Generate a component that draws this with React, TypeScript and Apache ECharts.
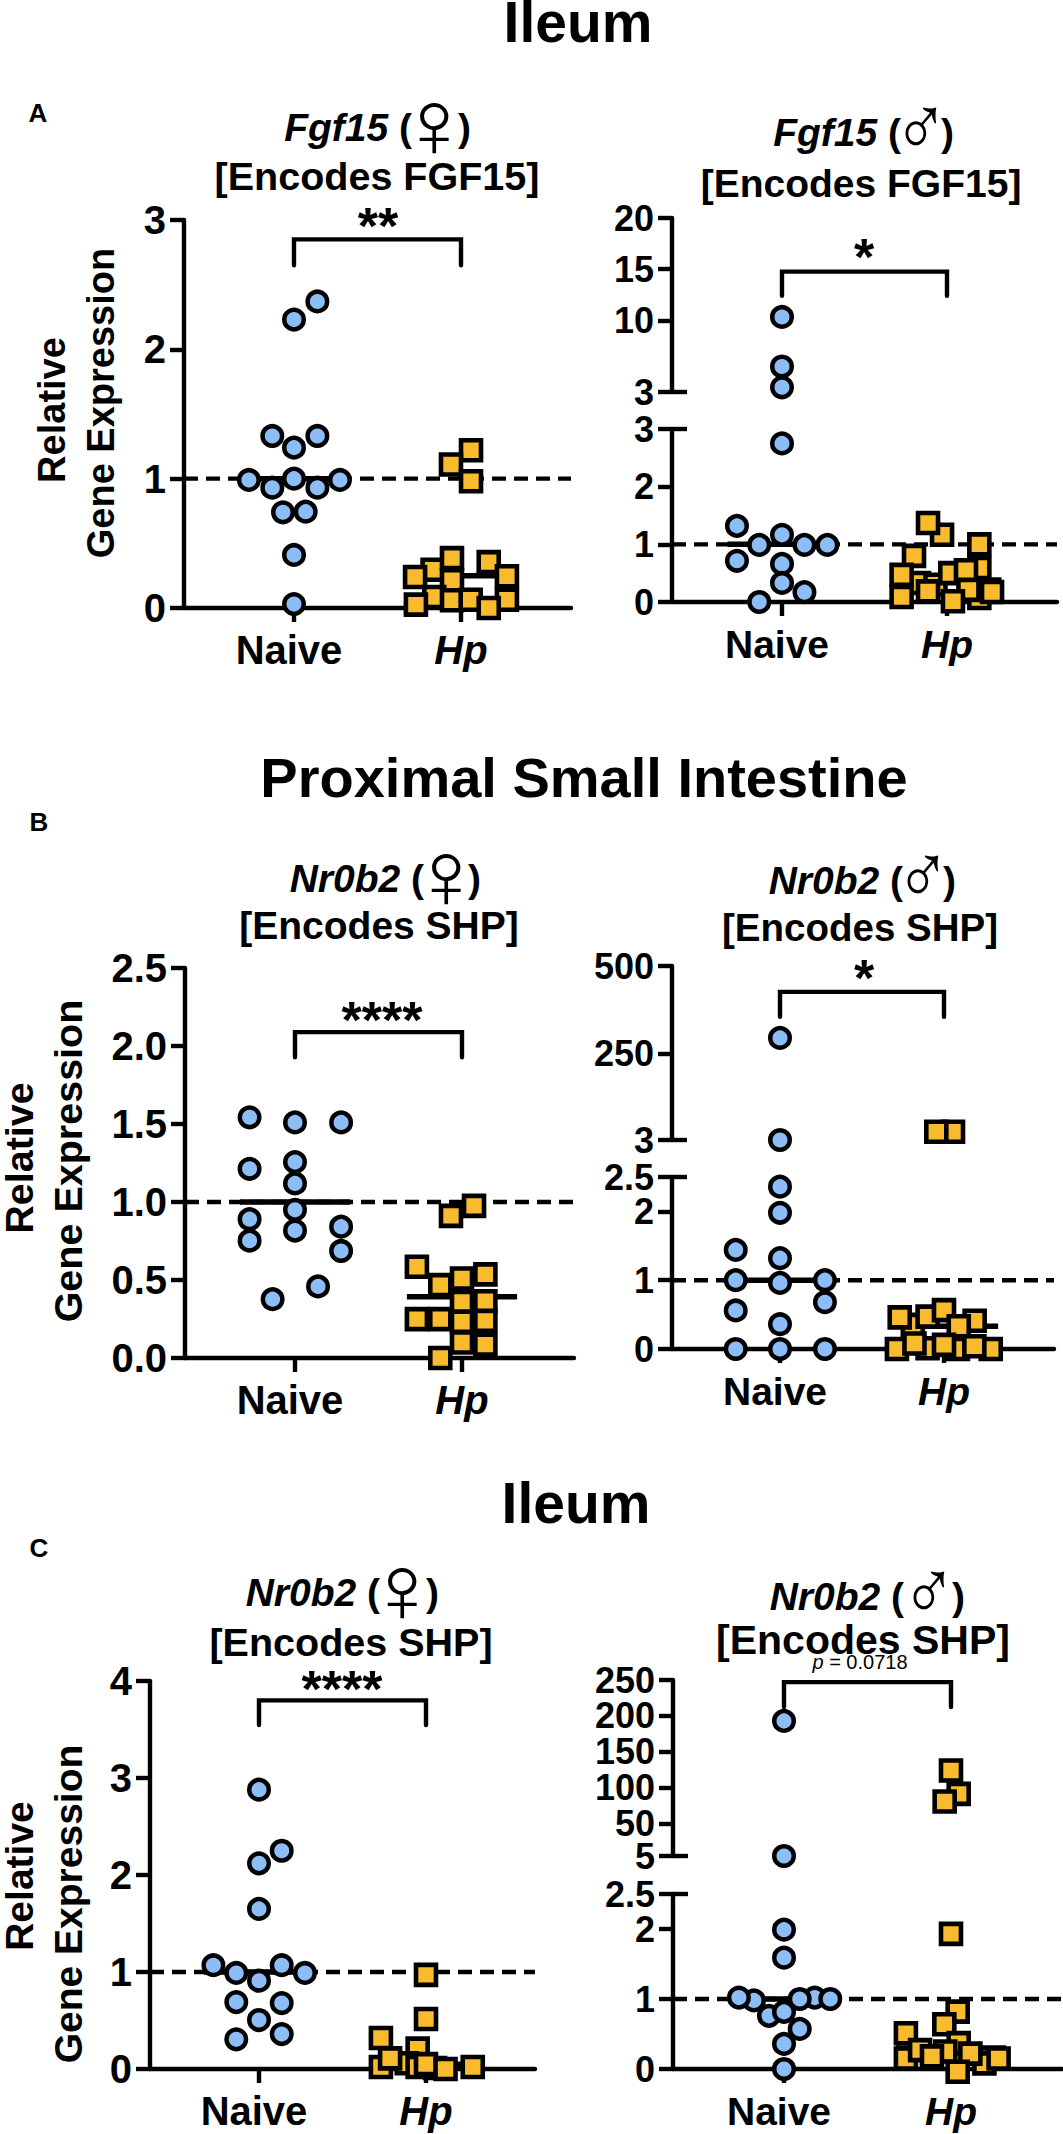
import React, { useEffect, useRef } from "react";
import * as echarts from "echarts";

// [offset from the group's centre, value]
const aFemaleNaive = [[0.14,2.37],[0,2.23],[-0.13,1.33],[0.14,1.33],[0,1.24],[-0.27,0.99],[0.275,0.99],[-0.13,0.93],[0.14,0.93],[0,1.0],[-0.066,0.74],[0.07,0.745],[0,0.41],[0,0.03]];
const aFemaleHp = [[0.06,1.22],[-0.06,1.11],[0.06,0.98],[-0.17,0.296],[-0.275,0.24],[0.166,0.355],[0.275,0.245],[-0.054,0.386],[-0.054,0.214],[-0.16,0.085],[-0.27,0.026],[-0.054,0.06],[0.058,0.064],[0.275,0.064],[0.166,0]];
const aMaleNaiveUpper = [[0,10.33],[0,5.49],[0,3.46]];
const aMaleNaiveLower = [[0,2.75],[-0.273,1.32],[0,1.165],[-0.138,0.99],[0.136,0.99],[0.275,0.99],[-0.273,0.715],[0,0.66],[0,0.33],[0.136,0.17],[-0.138,0]];
const aMaleHp = [[-0.03,1.165],[-0.115,1.37],[0.196,0.59],[0.196,1.0],[-0.2,0.8],[-0.17,0.33],[-0.07,0.3],[-0.275,0.47],[0.02,0.5],[0.115,0.55],[0.196,0.07],[0.13,0.21],[-0.275,0.087],[-0.115,0.185],[0.273,0.173],[0.036,0.012]];
const bFemaleNaive = [[-0.272,1.543],[0,1.51],[0.276,1.51],[-0.272,1.213],[0,1.256],[0,1.119],[0,0.95],[-0.272,0.89],[-0.272,0.752],[0,0.817],[0.276,0.842],[0.276,0.686],[0.138,0.459],[-0.134,0.377]];
const bFemaleHp = [[0.072,0.975],[-0.066,0.911],[-0.27,0.585],[-0.13,0.467],[0,0.51],[0.14,0.536],[0,0.36],[0.14,0.364],[-0.27,0.249],[-0.13,0.249],[0,0.232],[0.14,0.238],[0,0.099],[0.14,0.086],[-0.13,0]];
const bMaleNaiveUpper = [[0,294.5],[0,3]];
const bMaleNaiveLower = [[0,2.36],[0,1.98],[-0.27,1.44],[0,1.32],[-0.27,1],[0,0.96],[0.274,1],[0.274,0.68],[-0.27,0.56],[0,0.36],[-0.27,0],[0,0],[0.274,0]];
const bMaleHpUpper = [[0.055,26.7],[-0.047,26.7]];
const bMaleHpLower = [[-0.1,0.01],[0.085,0],[-0.19,0.35],[-0.287,0],[0.285,0],[-0.27,0.46],[-0.1,0.47],[0.187,0.41],[0,0.565],[0.09,0.33],[-0.18,0.08],[0.185,0.04],[0,0.06]];
const cFemaleNaive = [[0,2.88],[0.136,2.25],[0,2.12],[0,1.65],[-0.273,1.07],[0.136,1.07],[-0.136,0.99],[0.275,0.99],[0,0.91],[-0.136,0.69],[0.136,0.68],[0,0.505],[0.136,0.36],[-0.136,0.306]];
const cFemaleHp = [[0,0.97],[0,0.515],[-0.27,0.32],[-0.05,0.21],[-0.27,0.02],[-0.115,0.06],[-0.05,0.02],[0.054,0.01],[-0.215,0.11],[0,0.05],[0.117,0],[0.28,0.02]];
const cMaleNaiveUpper = [[0,193],[0,5]];
const cMaleNaiveLower = [[0,1.99],[0,1.59],[0.184,1.02],[-0.18,0.98],[-0.27,1.02],[0.094,1.0],[0.277,1.0],[-0.09,0.76],[0,0.816],[0.094,0.573],[0,0.358],[0,0]];
const cMaleHpUpper = [[0.046,91.5],[0,124],[-0.038,80.8]];
const cMaleHpLower = [[0,1.93],[0.04,0.82],[-0.04,0.64],[-0.27,0.15],[-0.27,0.51],[0.046,0.37],[-0.185,0.27],[-0.034,0.25],[-0.114,0.18],[0.2,0.08],[0.285,0.15],[0.116,0.22],[0.04,-0.04]];

const aFemaleTicks = [0, 1, 2, 3];
const aMaleLowerTicks = [0, 1, 2, 3];
const aMaleUpperTicks = [3, 10, 15, 20];
const bFemaleTicks = [0, 0.5, 1, 1.5, 2, 2.5];
const bMaleLowerTicks = [0, 1, 2, 2.5];
const bMaleLowerLabels = [0, 1, 2];
const bMaleUpperTicks = [3, 250, 500];
const cFemaleTicks = [0, 1, 2, 3, 4];
const cMaleLowerTicks = [0, 1, 2, 2.5];
const cMaleLowerLabels = [0, 1, 2];
const cMaleUpperTicks = [5, 50, 100, 150, 200, 250];
const cMaleUpperLabels = [50, 100, 150, 200, 250];

const groupTicks = [1, 2];
const referenceLevel = 1;

const BLUE = "#8cbdf6";
const ORANGE = "#f9bb2e";
const SANS = "'Liberation Sans', Arial, sans-serif";
const LINE = 4.4;

type Seg = { top: number; bottom: number; min: number; max: number; ticks: number[]; labels?: number[]; naive?: number[][]; hp?: number[][]; bracket?: number[] };
type Panel = {
  axisX: number; naiveX: number; hpX: number; right: number; ySize: number; xSize: number; xMargin: number; decimals?: boolean;
  naiveMedian: number; hpMedian: number; segs: Seg[];
};

const panels: Panel[] = [
  { axisX: 184, naiveX: 294, hpX: 461, right: 571, ySize: 40, xSize: 40, xMargin: 22, naiveMedian: 1, hpMedian: 0.25,
    segs: [{ top: 220, bottom: 608, min: 0, max: 3, ticks: aFemaleTicks, naive: aFemaleNaive, hp: aFemaleHp, bracket: [2.65, 2.85] }] },
  { axisX: 672, naiveX: 782, hpX: 947, right: 1057, ySize: 36, xSize: 39, xMargin: 23, naiveMedian: 1, hpMedian: 0.38,
    segs: [
      { top: 429, bottom: 602, min: 0, max: 3, ticks: aMaleLowerTicks, naive: aMaleNaiveLower, hp: aMaleHp },
      { top: 218, bottom: 392, min: 3, max: 20, ticks: aMaleUpperTicks, naive: aMaleNaiveUpper, bracket: [12.4, 14.76] },
    ] },
  { axisX: 185, naiveX: 295, hpX: 462, right: 574, ySize: 40, xSize: 40, xMargin: 22, decimals: true, naiveMedian: 1, hpMedian: 0.392,
    segs: [{ top: 968, bottom: 1358, min: 0, max: 2.5, ticks: bFemaleTicks, naive: bFemaleNaive, hp: bFemaleHp, bracket: [1.928, 2.089] }] },
  { axisX: 672, naiveX: 780, hpX: 944, right: 1054, ySize: 36, xSize: 39, xMargin: 23, naiveMedian: 1, hpMedian: 0.33,
    segs: [
      { top: 1177, bottom: 1349, min: 0, max: 2.5, ticks: bMaleLowerTicks, labels: bMaleLowerLabels, naive: bMaleNaiveLower, hp: bMaleHpLower },
      { top: 966, bottom: 1140, min: 3, max: 500, ticks: bMaleUpperTicks, naive: bMaleNaiveUpper, hp: bMaleHpUpper, bracket: [355, 426] },
    ] },
  { axisX: 150, naiveX: 259, hpX: 426, right: 535, ySize: 40, xSize: 40, xMargin: 22, naiveMedian: 1, hpMedian: 0.05,
    segs: [{ top: 1681, bottom: 2069, min: 0, max: 4, ticks: cFemaleTicks, naive: cFemaleNaive, hp: cFemaleHp, bracket: [3.546, 3.8] }] },
  { axisX: 673, naiveX: 784, hpX: 951, right: 1062, ySize: 36, xSize: 39, xMargin: 23, naiveMedian: 1, hpMedian: 0.3,
    segs: [
      { top: 1894, bottom: 2069, min: 0, max: 2.5, ticks: cMaleLowerTicks, labels: cMaleLowerLabels, naive: cMaleNaiveLower, hp: cMaleHpLower },
      { top: 1680, bottom: 1856, min: 5, max: 250, ticks: cMaleUpperTicks, labels: cMaleUpperLabels, naive: cMaleNaiveUpper, hp: cMaleHpUpper, bracket: [212.5, 247] },
    ] },
];

function lineSeries(xi: number, data: number[][], width: number, extra: any = {}) {
  return {
    type: "line", xAxisIndex: xi, yAxisIndex: xi, data, symbol: "none", silent: true, clip: false,
    lineStyle: { color: "#000", width, ...extra }, z: 2,
  };
}

function buildOption() {
  const grid: any[] = [], xAxis: any[] = [], yAxis: any[] = [], series: any[] = [];
  panels.forEach((p) => {
    const span = p.hpX - p.naiveX;
    const xMin = 1 - (p.naiveX - p.axisX) / span;
    const xMax = 2 + (p.right - p.hpX) / span;
    const broken = p.segs.length > 1;
    p.segs.forEach((s, si) => {
      const i = grid.length;
      grid.push({ left: p.axisX, width: p.right - p.axisX, top: s.top, height: s.bottom - s.top });
      const isBase = si === 0;
      xAxis.push({
        gridIndex: i, type: "value", min: xMin, max: xMax, show: isBase, splitLine: { show: false },
        axisLine: { onZero: false, lineStyle: { color: "#000", width: LINE } },
        axisTick: { show: true, customValues: groupTicks, length: 14, lineStyle: { color: "#000", width: LINE } },
        axisLabel: {
          show: true, customValues: groupTicks, margin: p.xMargin,
          formatter: (v: number) => (v === 1 ? "{n|Naive}" : "{h|Hp}"),
          rich: {
            n: { fontFamily: SANS, fontWeight: "bold", fontSize: p.xSize, color: "#000", padding: [0, 10, 0, 0] },
            h: { fontFamily: SANS, fontWeight: "bold", fontStyle: "italic", fontSize: p.xSize, color: "#000" },
          },
        },
      });
      yAxis.push({
        gridIndex: i, type: "value", min: s.min, max: s.max, splitLine: { show: false },
        axisLine: { show: true, onZero: false, lineStyle: { color: "#000", width: LINE } },
        axisTick: { show: true, customValues: s.ticks, length: 14, lineStyle: { color: "#000", width: LINE } },
        axisLabel: {
          show: true, customValues: s.labels || s.ticks, margin: 18, color: "#000", fontFamily: SANS, fontWeight: "bold", fontSize: p.ySize,
          showMinLabel: true, showMaxLabel: true, hideOverlap: false,
          formatter: (v: number) => (p.decimals ? v.toFixed(1) : String(v)),
        },
      });
      if (isBase) {
        series.push(lineSeries(i, [[xMin, referenceLevel], [xMax, referenceLevel]], LINE, { type: [14, 8] }));
        series.push(lineSeries(i, [[1 - 0.33, p.naiveMedian], [1 + 0.33, p.naiveMedian]], 5.5));
        series.push(lineSeries(i, [[2 - 0.33, p.hpMedian], [2 + 0.33, p.hpMedian]], 5.5));
      }
      if (broken) {
        const capX = xMin + 15 / span;
        const capY = isBase ? s.max : s.min;
        series.push(lineSeries(i, [[xMin, capY], [capX, capY]], LINE));
      }
      if (s.bracket) {
        const [low, high] = s.bracket;
        series.push(lineSeries(i, [[1, low], [1, high], [2, high], [2, low]], LINE, { cap: "round", join: "miter" }));
      }
      if (s.naive) series.push({
        type: "scatter", xAxisIndex: i, yAxisIndex: i, symbol: "circle", symbolSize: 19.5, clip: false, silent: true, z: 3,
        data: s.naive.map(([o, v]) => [1 + o, v]),
        itemStyle: { color: BLUE, borderColor: "#000", borderWidth: 4.5, opacity: 1 },
      });
      if (s.hp) series.push({
        type: "scatter", xAxisIndex: i, yAxisIndex: i, symbol: "rect", symbolSize: 20, clip: false, silent: true, z: 3,
        data: s.hp.map(([o, v]) => [2 + o, v]),
        itemStyle: { color: ORANGE, borderColor: "#000", borderWidth: 4.6, opacity: 1 },
      });
    });
  });

  const text = (t: string, x: number, y: number, fontSize: number, extra: any = {}, rot = 0, scaleX = 1) => ({
    type: "text", x, y, rotation: rot, scaleX, silent: true,
    style: { text: t, fontSize, fontFamily: SANS, fontWeight: "bold", fill: "#000", textAlign: "center", textVerticalAlign: "middle", ...extra },
  });
  const titleRich = {
    a: { fontFamily: SANS, fontWeight: "bold", fontStyle: "italic", fontSize: 39, fill: "#000" },
    b: { fontFamily: SANS, fontWeight: "bold", fontSize: 39, fill: "#000" },
  };
  const geneTitle = (gene: string, sym: string, parenEnd: number, parenStart: number, glyphX: number, y: number) => {
    const female = sym === "♀";
    return [
      text(`{a|${gene}} {b|(}`, parenEnd, y, 39, { rich: titleRich, textAlign: "right" }),
      text(sym, glyphX, female ? y - 3 : y - 6, female ? 96 : 86, { fontWeight: "normal", stroke: "#fff", lineWidth: female ? 1 : 0.8 }, 0, female ? 1.05 : 0.85),
      text(")", parenStart, y, 39, { textAlign: "left" }),
    ];
  };

  const graphic: any[] = [
    text("Ileum", 578, 22, 57),
    text("Proximal Small Intestine", 584, 777, 56),
    text("Ileum", 576, 1503, 57),
    text("A", 38, 113, 26), text("B", 39, 822, 26), text("C", 39, 1548, 26),
    ...geneTitle("Fgf15", "♀", 412, 458, 434, 127), text("[Encodes FGF15]", 377, 176, 39.5),
    ...geneTitle("Fgf15", "♂", 901, 941, 921, 132), text("[Encodes FGF15]", 861, 183, 39),
    ...geneTitle("Nr0b2", "♀", 424, 468, 446, 878), text("[Encodes SHP]", 379, 925, 39),
    ...geneTitle("Nr0b2", "♂", 903, 943, 923, 880), text("[Encodes SHP]", 860, 927, 38.5),
    ...geneTitle("Nr0b2", "♀", 380, 426, 402, 1592), text("[Encodes SHP]", 351, 1642, 39.5),
    ...geneTitle("Nr0b2", "♂", 904, 952, 929, 1596), text("[Encodes SHP]", 863, 1640, 41),
    text("**", 378, 226, 52), text("*", 864, 257, 52),
    text("****", 382, 1020, 52), text("*", 864, 978, 52),
    text("****", 342, 1689, 52),
    text("{i|p} = 0.0718", 860, 1662, 20, { fontWeight: "normal", rich: { i: { fontFamily: SANS, fontStyle: "italic", fontSize: 20, fill: "#000" } } }),
    text("2.5", 654, 1177, 36, { textAlign: "right" }),
    text("2.5", 655, 1894, 36, { textAlign: "right" }),
    text("5", 655, 1856, 36, { textAlign: "right" }),
    text("Relative", 52, 410, 38, {}, Math.PI / 2), text("Gene Expression", 101, 403, 38, {}, Math.PI / 2),
    text("Relative", 19, 1158, 39.5, {}, Math.PI / 2), text("Gene Expression", 68, 1161, 39.5, {}, Math.PI / 2),
    text("Relative", 19, 1876, 39, {}, Math.PI / 2), text("Gene Expression", 68, 1904, 39, {}, Math.PI / 2),
  ];

  return { animation: false, backgroundColor: "#fff", grid, xAxis, yAxis, series, graphic };
}

export default function App() {
  const ref = useRef<HTMLDivElement>(null);
  useEffect(() => {
    const chart = echarts.init(ref.current!, undefined, { renderer: "svg" });
    chart.setOption(buildOption() as any);
    return () => chart.dispose();
  }, []);
  return <div ref={ref} style={{ position: "absolute", left: 0, top: 0, width: 1063, height: 2134 }} />;
}
